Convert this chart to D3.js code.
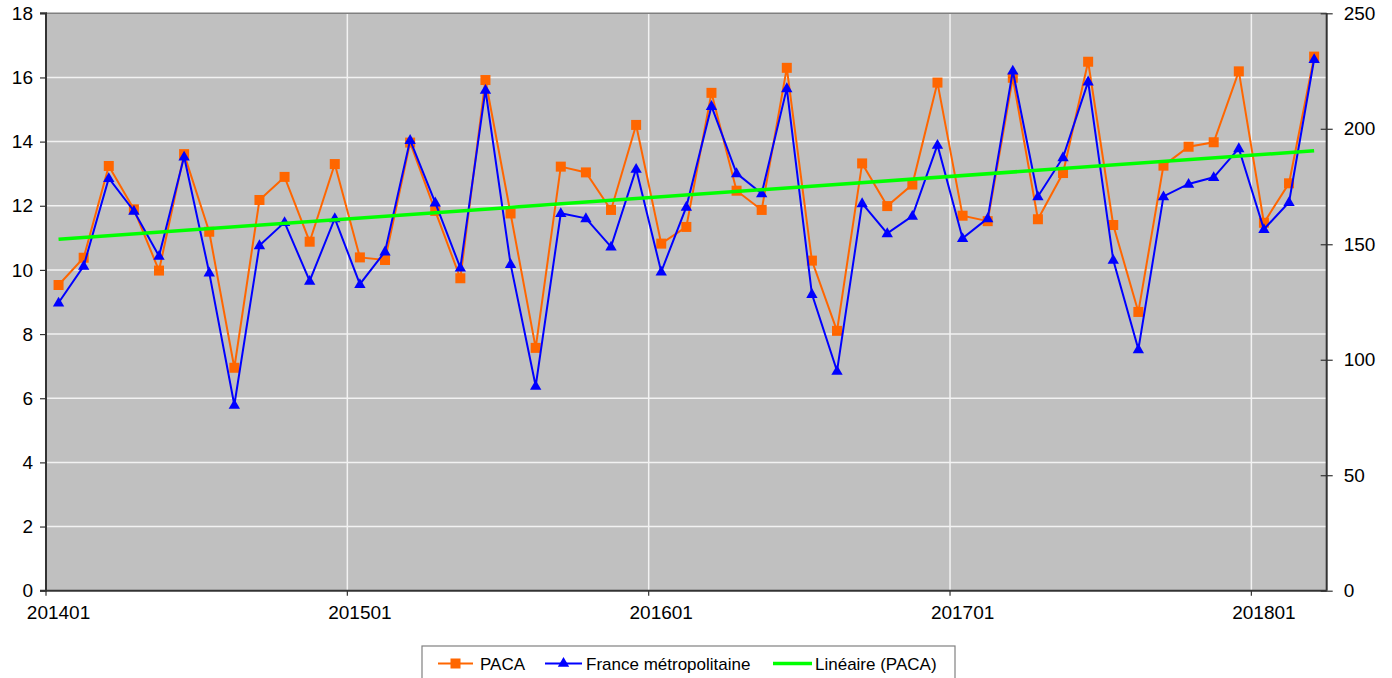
<!DOCTYPE html>
<html>
<head>
<meta charset="utf-8">
<script src="https://cdn.jsdelivr.net/npm/d3@7"></script>
<style>
  html, body { margin: 0; padding: 0; background: #ffffff; }
  svg { display: block; font-family: "Liberation Sans", Arial, sans-serif; }
</style>
</head>
<body>
<svg id="chart" width="1392" height="678"></svg>
<script>
// ---- Data ----
const months = [
  "201401","201402","201403","201404","201405","201406","201407","201408","201409","201410","201411","201412",
  "201501","201502","201503","201504","201505","201506","201507","201508","201509","201510","201511","201512",
  "201601","201602","201603","201604","201605","201606","201607","201608","201609","201610","201611","201612",
  "201701","201702","201703","201704","201705","201706","201707","201708","201709","201710","201711","201712",
  "201801","201802","201803"
];
const paca = [
  9.53,10.38,13.24,11.89,9.98,13.61,11.19,6.95,12.18,12.90,10.88,13.30,
  10.39,10.31,13.97,11.84,9.74,15.92,11.76,7.57,13.22,13.04,11.87,14.52,
  10.82,11.34,15.52,12.47,11.87,16.30,10.29,8.10,13.32,11.99,12.66,15.84,
  11.69,11.52,15.99,11.58,13.02,16.49,11.40,8.69,13.25,13.84,13.98,16.19,
  11.47,12.70,16.65
];
const france = [
  124.7,140.6,178.6,164.4,144.9,187.9,137.7,80.4,149.5,159.5,134.1,161.2,
  132.7,146.8,195.1,168.0,139.8,216.8,141.4,88.6,163.4,161.2,148.9,182.6,
  138.1,166.2,209.8,180.7,172.0,217.5,128.4,95.1,167.7,154.7,162.2,193.0,
  152.6,161.2,225.1,170.7,187.6,220.4,143.2,104.5,170.7,176.1,179.0,191.5,
  156.5,168.2,230.1
];
const xTickLabels = ["201401","201501","201601","201701","201801"];
const leftTicks = [0,2,4,6,8,10,12,14,16,18];
const rightTicks = [0,50,100,150,200,250];
const seriesNames = ["PACA","France métropolitaine","Linéaire (PACA)"];

// ---- Layout ----
const X0 = 46, X1 = 1326.7, Y0 = 13.3, Y1 = 590.7;
const svg = d3.select("#chart");

const x = d3.scaleBand().domain(months).range([X0, X1]).paddingInner(0).paddingOuter(0);
const cx = d => x(d) + x.bandwidth() / 2;
const yL = d3.scaleLinear().domain([0, 18]).range([Y1, Y0]);
const yR = d3.scaleLinear().domain([0, 250]).range([Y1, Y0]);

// plot background
svg.append("rect").attr("x", X0).attr("y", Y0).attr("width", X1 - X0).attr("height", Y1 - Y0)
  .attr("fill", "#c0c0c0");

// horizontal gridlines
svg.append("g").selectAll("line").data(leftTicks.filter(t => t > 0 && t < 18)).join("line")
  .attr("x1", X0).attr("x2", X1)
  .attr("y1", d => yL(d)).attr("y2", d => yL(d))
  .attr("stroke", "#f2f2f2").attr("stroke-width", 1.5);

// vertical gridlines at category boundaries
svg.append("g").selectAll("line").data(xTickLabels.slice(1)).join("line")
  .attr("x1", d => x(d)).attr("x2", d => x(d))
  .attr("y1", Y0).attr("y2", Y1)
  .attr("stroke", "#f2f2f2").attr("stroke-width", 1.5);

// top border
svg.append("line").attr("x1", X0).attr("x2", X1).attr("y1", Y0).attr("y2", Y0)
  .attr("stroke", "#808080").attr("stroke-width", 1.5);

// ---- Axes ----
const axisColor = "#333333";
const fontSize = 19;

// left axis
const gL = svg.append("g").attr("transform", `translate(${X0},0)`)
  .call(d3.axisLeft(yL).tickValues(leftTicks).tickSize(6).tickPadding(7).tickFormat(d3.format("d")));
// bottom axis (ticks at boundaries, labels at centres)
const gB = svg.append("g").attr("transform", `translate(0,${Y1})`);
gB.append("line").attr("x1", X0).attr("x2", X1).attr("y1", 0).attr("y2", 0)
  .attr("stroke", axisColor).attr("stroke-width", 2);
gB.selectAll("line.tk").data(xTickLabels).join("line").attr("class", "tk")
  .attr("x1", d => x(d)).attr("x2", d => x(d)).attr("y1", 0).attr("y2", 5)
  .attr("stroke", axisColor).attr("stroke-width", 1.2);
gB.selectAll("text").data(xTickLabels).join("text")
  .attr("x", d => cx(d)).attr("y", 28)
  .attr("text-anchor", "middle").attr("font-size", fontSize).attr("fill", "#000")
  .text(d => d);

// right axis
const gR = svg.append("g").attr("transform", `translate(${X1},0)`)
  .call(d3.axisRight(yR).tickValues(rightTicks).tickSize(6).tickPadding(11).tickFormat(d3.format("d")));
gR.selectAll(".tick line").attr("x1", -6);

[gL, gR].forEach(g => {
  g.select(".domain").attr("stroke", axisColor).attr("stroke-width", 2);
  g.selectAll(".tick line").attr("stroke", axisColor).attr("stroke-width", 1.2);
  g.selectAll(".tick text").attr("font-size", fontSize).attr("fill", "#000")
    .attr("font-family", "'Liberation Sans', Arial, sans-serif");
});
gL.select(".domain").attr("d", `M-6,${Y1}H0V${Y0}H-6`);
gR.select(".domain").attr("d", `M0,${Y1}V${Y0}`);

// ---- Trend line (linear regression of PACA on month index) ----
const idx = paca.map((_, i) => i);
const mx = d3.mean(idx), my = d3.mean(paca);
const slope = d3.sum(idx, i => (i - mx) * (paca[i] - my)) / d3.sum(idx, i => (i - mx) * (i - mx));
const icpt = my - slope * mx;
const trend = [0, months.length - 1].map(i => ({ m: months[i], v: icpt + slope * i }));

// ---- Series ----
const ORANGE = "#ff6600", BLUE = "#0000ff", GREEN = "#00ff00";

const linePaca = d3.line().x((d, i) => cx(months[i])).y(d => yL(d));
const lineFr = d3.line().x((d, i) => cx(months[i])).y(d => yR(d));

svg.append("path").datum(paca).attr("d", linePaca)
  .attr("fill", "none").attr("stroke", ORANGE).attr("stroke-width", 2);
svg.selectAll("rect.paca").data(paca).join("rect").attr("class", "paca")
  .attr("x", (d, i) => cx(months[i]) - 5).attr("y", d => yL(d) - 5)
  .attr("width", 10).attr("height", 10).attr("fill", ORANGE);

const tri = d3.symbol().type(d3.symbolTriangle).size(56);
svg.append("path").datum(france).attr("d", lineFr)
  .attr("fill", "none").attr("stroke", BLUE).attr("stroke-width", 2);
svg.selectAll("path.fr").data(france).join("path").attr("class", "fr")
  .attr("d", tri)
  .attr("transform", (d, i) => `translate(${cx(months[i])},${yR(d) + 0.5})`)
  .attr("fill", BLUE);

svg.append("path").datum(trend)
  .attr("d", d3.line().x(d => cx(d.m)).y(d => yL(d.v)))
  .attr("fill", "none").attr("stroke", GREEN).attr("stroke-width", 3.5);

// ---- Legend ----
const lg = svg.append("g");
lg.append("rect").attr("x", 422).attr("y", 646).attr("width", 533).attr("height", 40)
  .attr("fill", "#ffffff").attr("stroke", "#808080").attr("stroke-width", 1.2);
const items = [
  { name: seriesNames[0], color: ORANGE, x1: 438, x2: 473, tx: 480, marker: "sq" },
  { name: seriesNames[1], color: BLUE, x1: 545, x2: 582, tx: 586, marker: "tri" },
  { name: seriesNames[2], color: GREEN, x1: 773, x2: 812, tx: 815, marker: null }
];
const ly = 663.5;
items.forEach(it => {
  lg.append("line").attr("x1", it.x1).attr("x2", it.x2).attr("y1", ly).attr("y2", ly)
    .attr("stroke", it.color).attr("stroke-width", it.marker ? 2 : 3.5);
  const mxp = (it.x1 + it.x2) / 2;
  if (it.marker === "sq") {
    lg.append("rect").attr("x", mxp - 5).attr("y", ly - 5).attr("width", 10).attr("height", 10).attr("fill", it.color);
  } else if (it.marker === "tri") {
    lg.append("path").attr("d", tri).attr("transform", `translate(${mxp},${ly})`).attr("fill", it.color);
  }
  lg.append("text").attr("x", it.tx).attr("y", ly + 6).attr("font-size", 17).attr("fill", "#000")
    .text(it.name);
});
</script>
</body>
</html>
